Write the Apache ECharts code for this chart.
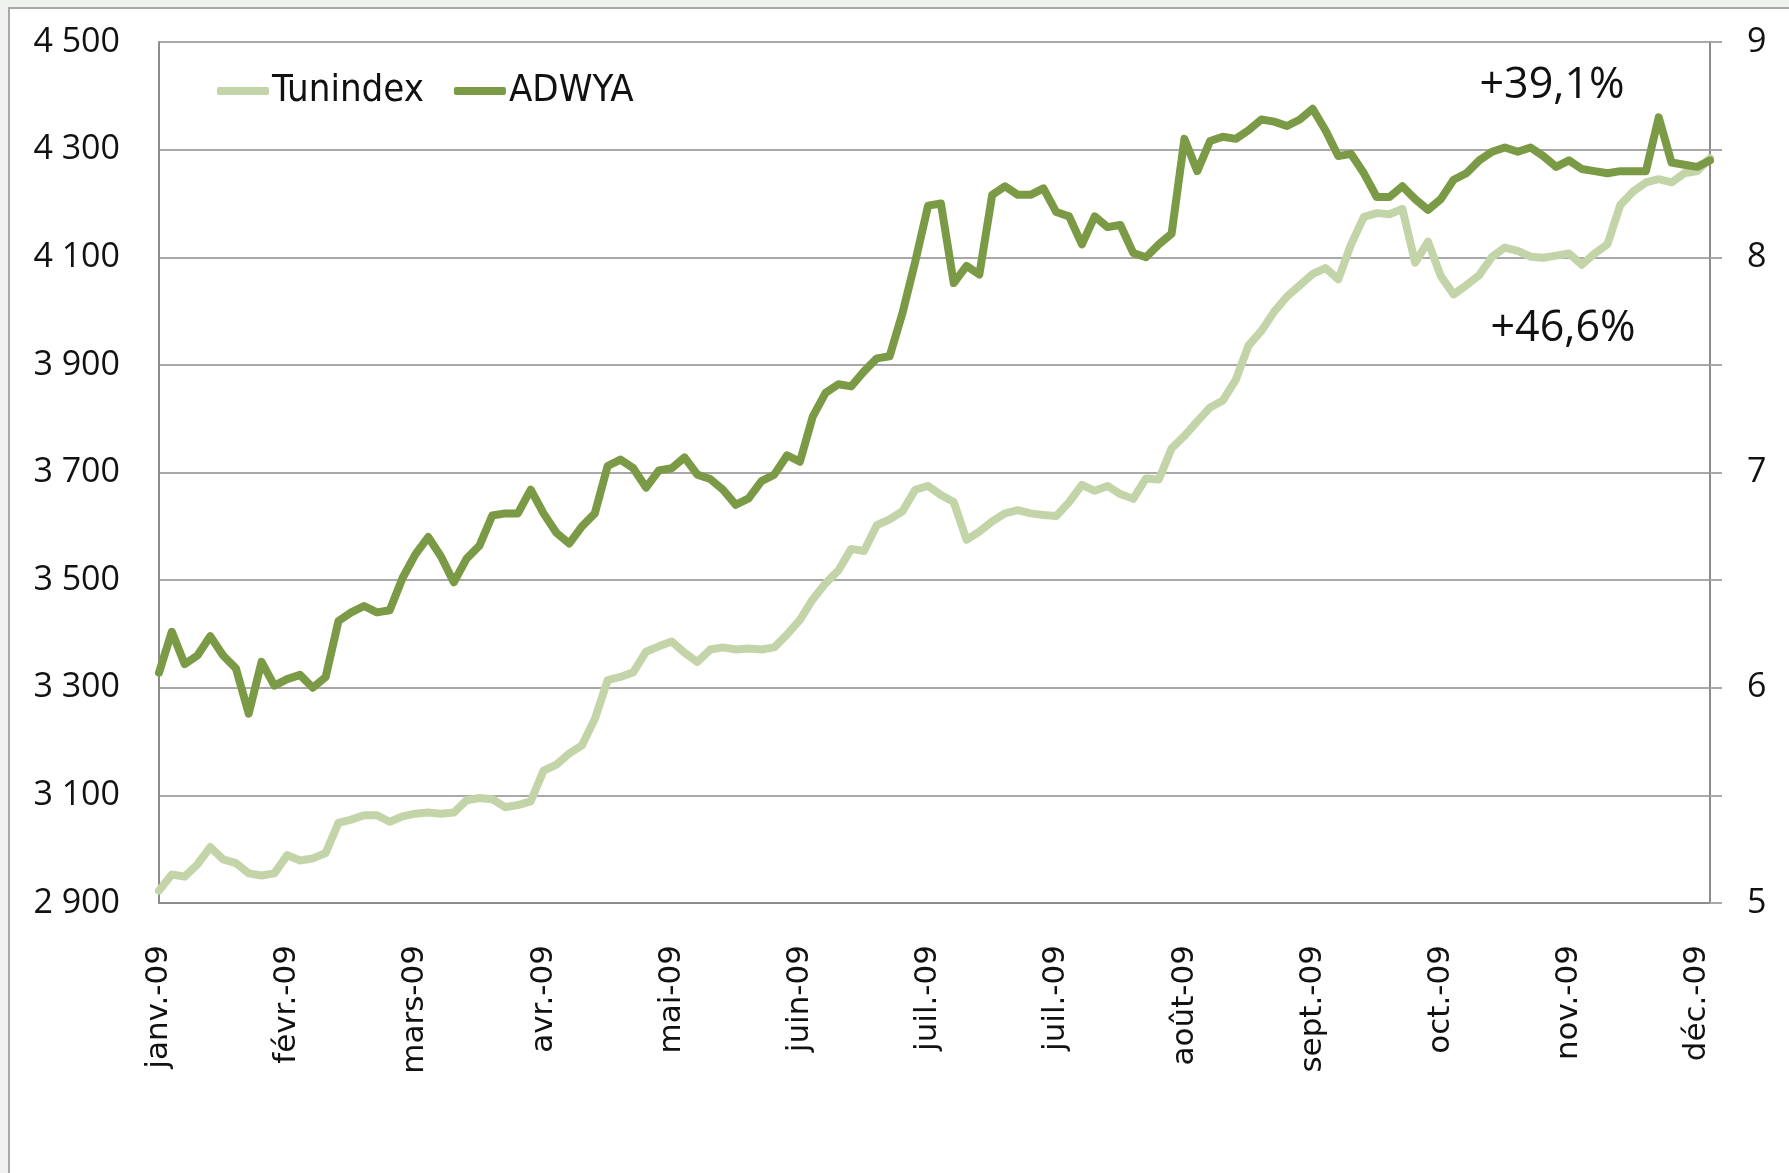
<!DOCTYPE html>
<html>
<head>
<meta charset="utf-8">
<script src="https://cdn.jsdelivr.net/npm/echarts@6/dist/echarts.min.js"></script>
<style>
  html, body { margin: 0; padding: 0; width: 1789px; height: 1173px; overflow: hidden; background: #eff1ee; }
  #frame { position: absolute; left: 8px; top: 7px; width: 1820px; height: 1220px; background: #fff; border: 2px solid #a8a8a8; }
  #chart { position: absolute; left: 0; top: 0; width: 1789px; height: 1173px; }
</style>
</head>
<body>
<div id="frame"></div>
<div id="chart"></div>
<script>
// month labels shown every 10 points on the x axis
var tickLabels = ['janv.-09', 'févr.-09', 'mars-09', 'avr.-09', 'mai-09', 'juin-09', 'juil.-09',
  'juil.-09', 'août-09', 'sept.-09', 'oct.-09', 'nov.-09', 'déc.-09'];

// Tunindex (left axis)
var tunindex = [
  2923, 2953, 2949, 2972, 3004, 2981, 2974, 2955, 2951, 2955,
  2989, 2979, 2983, 2993, 3049, 3055, 3063, 3063, 3051, 3061,
  3066, 3068, 3066, 3068, 3091, 3095, 3093, 3078, 3082, 3089,
  3146, 3157, 3178, 3193, 3242, 3314, 3320, 3329, 3367, 3377,
  3386, 3365, 3348, 3371, 3375, 3371, 3373, 3371, 3375, 3399,
  3426, 3464, 3494, 3518, 3558, 3554, 3602, 3613, 3628, 3668,
  3675, 3658, 3645, 3575, 3590, 3609, 3624, 3630, 3624, 3621,
  3619, 3645, 3677, 3666, 3675, 3660, 3651, 3689, 3687, 3745,
  3768, 3795, 3821, 3834, 3872, 3936, 3963, 3999, 4027, 4048,
  4069, 4080, 4059, 4124, 4175, 4182, 4180, 4190, 4090, 4129,
  4065, 4031, 4048, 4067, 4101, 4118, 4112, 4101, 4099, 4103,
  4107, 4086, 4107, 4124, 4197, 4222, 4239, 4245, 4239, 4256,
  4260, 4284
];

// ADWYA share price (right axis)
var adwya = [
  6.07, 6.26, 6.11, 6.15, 6.24, 6.15, 6.09, 5.88, 6.12, 6.01,
  6.04, 6.06, 6.00, 6.05, 6.31, 6.35, 6.38, 6.35, 6.36, 6.51,
  6.62, 6.70, 6.61, 6.49, 6.60, 6.66, 6.80, 6.81, 6.81, 6.92,
  6.81, 6.72, 6.67, 6.75, 6.81, 7.03, 7.06, 7.02, 6.93, 7.01,
  7.02, 7.07, 6.99, 6.97, 6.92, 6.85, 6.88, 6.96, 6.99, 7.08,
  7.05, 7.26, 7.37, 7.41, 7.40, 7.47, 7.53, 7.54, 7.74, 7.98,
  8.24, 8.25, 7.88, 7.96, 7.92, 8.29, 8.33, 8.29, 8.29, 8.32,
  8.21, 8.19, 8.06, 8.19, 8.14, 8.15, 8.02, 8.00, 8.06, 8.11,
  8.55, 8.40, 8.54, 8.56, 8.55, 8.59, 8.64, 8.63, 8.61, 8.64,
  8.69, 8.59, 8.47, 8.48, 8.39, 8.28, 8.28, 8.33, 8.27, 8.22,
  8.27, 8.36, 8.39, 8.45, 8.49, 8.51, 8.49, 8.51, 8.47, 8.42,
  8.45, 8.41, 8.40, 8.39, 8.40, 8.40, 8.40, 8.65, 8.44, 8.43,
  8.42, 8.45
];

var days = tunindex.map(function(v, i) { return i; });

var lightGreen = '#c3d5a8';
var darkGreen = '#7b9a45';
var axisGray = '#8c8c8c';
var gridGray = '#a8a8a8';

function thousands(v) {
  var s = String(v);
  return s.length > 3 ? s.slice(0, s.length - 3) + ' ' + s.slice(-3) : s;
}

var chart = echarts.init(document.getElementById('chart'), null, { renderer: 'canvas' });
chart.setOption({
  animation: false,
  backgroundColor: 'transparent',
  grid: { left: 159, right: 79, top: 42, bottom: 270 },
  legend: {
    left: 212,
    top: 67,
    itemWidth: 52,
    itemHeight: 8,
    itemGap: 30,
    icon: 'roundRect',
    textStyle: { fontFamily: '"Liberation Sans Narrow", "DejaVu Sans Condensed", "Liberation Sans"', fontSize: 38, color: '#111', padding: [0, 0, 0, -2] },
    data: ['Tunindex', 'ADWYA']
  },
  xAxis: {
    type: 'category',
    data: days,
    boundaryGap: false,
    axisLine: { lineStyle: { color: axisGray, width: 2 } },
    axisTick: { show: false },
    axisLabel: {
      interval: 9,
      rotate: 90,
      margin: 42,
      color: '#111',
      fontFamily: '"DejaVu Sans"',
      fontSize: 31,
      formatter: function(v, idx) { return tickLabels[Math.round(idx / 10)]; }
    },
    splitLine: { show: false }
  },
  yAxis: [{
    type: 'value',
    min: 2900,
    max: 4500,
    interval: 200,
    axisLine: { show: true, lineStyle: { color: axisGray, width: 2 } },
    axisTick: { show: false },
    axisLabel: { margin: 39, color: '#111', fontFamily: '"Open Sans"', fontSize: 34, formatter: thousands },
    splitLine: { lineStyle: { color: gridGray, width: 2 } }
  }, {
    type: 'value',
    min: 5,
    max: 9,
    interval: 0.5,
    position: 'right',
    axisLine: { show: true, lineStyle: { color: axisGray, width: 2 } },
    axisTick: { show: true, inside: false, length: 12, lineStyle: { color: gridGray, width: 2 } },
    axisLabel: {
      margin: 37, color: '#111', fontFamily: '"Open Sans"', fontSize: 34,
      formatter: function(v) { return v % 1 === 0 ? String(v) : ''; }
    },
    splitLine: { show: false }
  }],
  series: [{
    name: 'Tunindex',
    type: 'line',
    data: tunindex,
    yAxisIndex: 0,
    showSymbol: false,
    color: lightGreen,
    lineStyle: { width: 8, color: lightGreen, cap: 'round', join: 'round' }
  }, {
    name: 'ADWYA',
    type: 'line',
    data: adwya,
    yAxisIndex: 1,
    showSymbol: false,
    color: darkGreen,
    lineStyle: { width: 8, color: darkGreen, cap: 'round', join: 'round' }
  }],
  graphic: [{
    type: 'text', x: 1552, y: 86,
    style: { text: '+39,1%', font: '43px "Open Sans"', fill: '#111', align: 'center', verticalAlign: 'middle' }
  }, {
    type: 'text', x: 1563, y: 329,
    style: { text: '+46,6%', font: '43px "Open Sans"', fill: '#111', align: 'center', verticalAlign: 'middle' }
  }]
});
</script>
</body>
</html>
